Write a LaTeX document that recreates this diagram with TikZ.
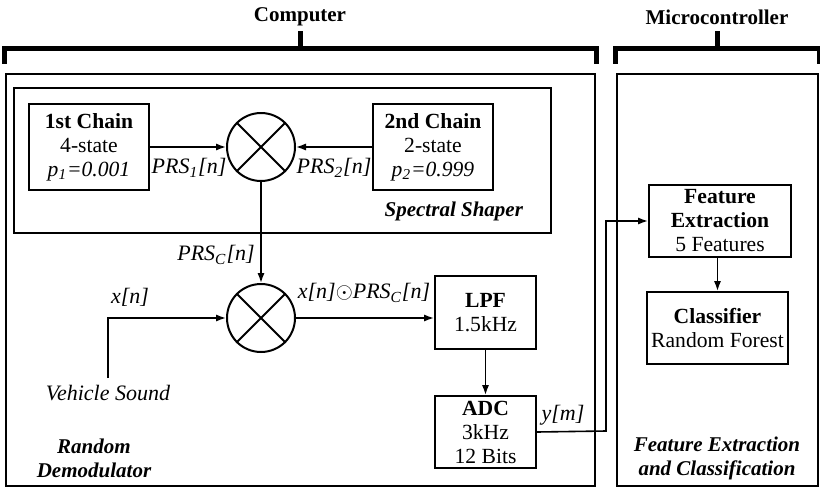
\documentclass[tikz,border=0pt]{standalone}
\usepackage{fontspec}
\setmainfont{Liberation Serif}
\usetikzlibrary{arrows.meta,calc,positioning}
\tikzset{every picture/.style={
  >={Latex[length=5pt,width=3.6pt]}   % LaTeX style arrows.
  }
}

\begin{document}
\begin{tikzpicture}[
    x=0.5pt, y=-0.5pt,
    font=\fontsize{10.8}{12}\selectfont,
    frame/.style={draw, line width=1.3pt, inner sep=0pt},
    blk/.style={draw, line width=1pt, align=center, inner sep=0pt},
    mix/.style={draw, circle, line width=1pt, minimum size=34pt, inner sep=0pt},
    sig/.style={line width=0.8pt},
    lbl/.style={font=\fontsize{11}{12}\selectfont\itshape},
    bracket/.style={line width=2.5pt},
    head/.style={font=\fontsize{10.5}{12}\selectfont\bfseries},
    tag/.style={font=\fontsize{10.5}{12}\selectfont\bfseries\itshape, align=center}
  ]
    \useasboundingbox (0,0) rectangle (820,488);

    % Helper macro: bracket over a frame.
    \def\br#1{ \draw[bracket] ([yshift=4.5pt] #1.north west) |-
        ([yshift=12.25pt] #1.north) -| ([yshift=4.5pt] #1.north east);
      \draw[bracket] ([yshift=12.25pt] #1.north) -- ++(0,-17) }

    % The two frames and their headings.
    \node[frame, minimum width=294.5pt, minimum height=206pt] (comp) at (300.5,280) {};
    \node[frame, minimum width=100.5pt, minimum height=206pt] (micro) at (717.5,280) {};
    \br{comp};
    \br{micro};
    \node[head] (compLbl) at (300,17) {Computer};
    \node[head] (microLbl) at (717,17) {Microcontroller};

    % Spectral shaper.
    \node[blk, minimum width=268.5pt, minimum height=72.5pt] (shaper) at (282.5,160.5) {};
    \node[tag, anchor=south east] at ([xshift=-11pt, yshift=3pt] shaper.south east)
      {Spectral Shaper};
    \node[blk, minimum width=60pt, minimum height=43pt] (chain1) at (89,147)
      {\textbf{1st Chain}\\4-state\\\textit{p\textsubscript{1}=0.001}};
    \node[blk, minimum width=60pt, minimum height=43pt] (chain2) at (433,147)
      {\textbf{2nd Chain}\\2-state\\\textit{p\textsubscript{2}=0.999}};
    \node[mix] (mixS) at (261,147) {};
    \draw[sig,->] (chain1) -- (mixS);
    \draw[sig,->] (chain2) -- (mixS);
    \node[lbl] at (189,168) {PRS\textsubscript{1}[n]};
    \node[lbl] at (334,168) {PRS\textsubscript{2}[n]};

    % Random demodulator.
    \node[mix, below=50.5pt of mixS] (mixD) {};
    \foreach \m in {mixS,mixD}
      \draw[line width=1pt] (\m.45) -- (\m.225) (\m.135) -- (\m.315);
    \draw[sig,->] (mixS) -- (mixD);
    \node[lbl] at (216,255) {PRS\textsubscript{C}[n]};

    \node[lbl] (vehicle) at (108,393) {Vehicle Sound};
    \draw[sig,->] (vehicle.north) |- (mixD.west);
    \node[lbl] at (130,297) {x[n]};

    \node[blk, minimum width=50.5pt, minimum height=36.5pt] (lpf) at (485.5,312.5)
      {\textbf{LPF}\\1.5kHz};
    \draw[sig,->] (mixD.east) -- (mixD.east -| lpf.west);
    \node[lbl] at (364,293) {x[n]$\odot$PRS\textsubscript{C}[n]};

    \node[blk, minimum width=50.5pt, minimum height=36pt, below=22.5pt of lpf] (adc)
      {\textbf{ADC}\\3kHz\\12 Bits};
    \draw[sig,->] (lpf) -- (adc);
    \node[lbl] at (563,415) {y[m]};
    \node[tag] at (94,458) {Random\\Demodulator};

    % Feature extraction and classification.
    \node[blk, minimum width=71pt, minimum height=36pt] (fe) at (720,221)
      {\textbf{Feature}\\\textbf{Extraction}\\5 Features};
    \node[blk, minimum width=70.5pt, minimum height=36pt] (cls) at (717.5,328)
      {\textbf{Classifier}\\Random Forest};
    \draw[sig,->] (fe.south -| cls.north) -- (cls.north);
    \coordinate (hop) at (606,431);
    \draw[sig,->] (adc.east) -- (hop) |- (fe.west);
    \node[tag] at (717,458) {Feature Extraction\\and Classification};
  \end{tikzpicture}
\end{document}
